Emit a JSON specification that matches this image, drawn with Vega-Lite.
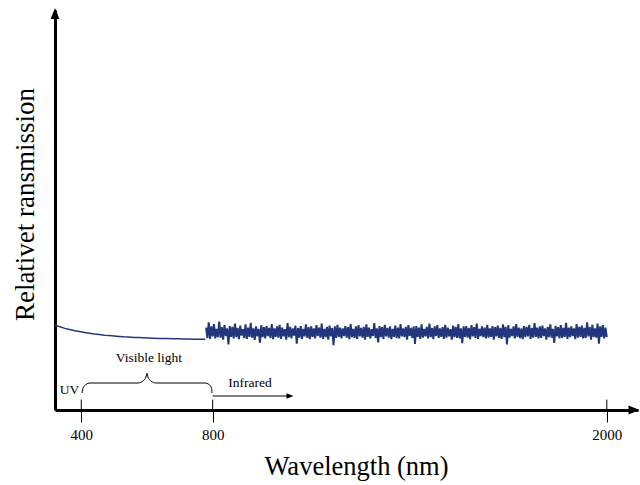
{
  "$schema": "https://vega.github.io/schema/vega-lite/v6.json",
  "autosize": {"type": "none"},
  "padding": {"left": 55, "top": 10, "right": 2, "bottom": 75},
  "width": 583,
  "height": 400,
  "background": "white",
  "config": {"view": {"stroke": null}},
  "datasets": {
    "smooth": [
      {"w":320,"t":21.2},{"w":335,"t":20.8},{"w":350,"t":20.4},{"w":365,"t":20.1},{"w":380,"t":19.8},{"w":395,"t":19.6},{"w":410,"t":19.4},{"w":425,"t":19.2},{"w":440,"t":19.0},{"w":455,"t":18.85},{"w":470,"t":18.7},{"w":485,"t":18.6},{"w":500,"t":18.5},{"w":515,"t":18.4},{"w":530,"t":18.3},{"w":545,"t":18.25},{"w":560,"t":18.15},{"w":575,"t":18.1},{"w":590,"t":18.05},{"w":605,"t":18.0},{"w":620,"t":17.95},{"w":635,"t":17.9},{"w":650,"t":17.9},{"w":665,"t":17.85},{"w":680,"t":17.8},{"w":695,"t":17.8},{"w":710,"t":17.75},{"w":725,"t":17.75},{"w":740,"t":17.7},{"w":755,"t":17.7},{"w":770,"t":17.7},{"w":778,"t":17.7}
    ],
    "noise": [
      {"w":780,"t":20.6},{"w":784,"t":18.0},{"w":788,"t":21.9},{"w":792,"t":17.8},{"w":796,"t":20.9},{"w":800,"t":18.4},{"w":804,"t":21.5},{"w":808,"t":17.9},{"w":812,"t":20.3},{"w":816,"t":18.2},
      {"w":820,"t":22.1},{"w":824,"t":18.1},{"w":828,"t":20.7},{"w":832,"t":17.6},{"w":836,"t":21.2},{"w":840,"t":18.5},{"w":844,"t":20.4},{"w":848,"t":16.4},{"w":852,"t":21.0},{"w":856,"t":18.3},
      {"w":860,"t":20.8},{"w":864,"t":17.9},{"w":868,"t":21.6},{"w":872,"t":18.2},{"w":876,"t":20.5},{"w":880,"t":17.7},{"w":884,"t":21.1},{"w":888,"t":18.6},{"w":892,"t":20.2},{"w":896,"t":18.0},
      {"w":900,"t":21.4},{"w":904,"t":17.8},{"w":908,"t":20.6},{"w":912,"t":18.3},{"w":916,"t":21.8},{"w":920,"t":18.1},{"w":924,"t":20.4},{"w":928,"t":17.5},{"w":932,"t":20.9},{"w":936,"t":18.4},
      {"w":940,"t":20.3},{"w":944,"t":16.8},{"w":948,"t":21.2},{"w":952,"t":18.2},{"w":956,"t":20.7},{"w":960,"t":17.9},{"w":964,"t":21.0},{"w":968,"t":18.5},{"w":972,"t":20.5},{"w":976,"t":18.0},
      {"w":980,"t":21.5},{"w":984,"t":17.7},{"w":988,"t":20.4},{"w":992,"t":18.3},{"w":996,"t":20.9},{"w":1000,"t":18.1},{"w":1004,"t":21.3},{"w":1008,"t":17.8},{"w":1012,"t":20.6},{"w":1016,"t":18.4},
      {"w":1020,"t":20.2},{"w":1024,"t":17.6},{"w":1028,"t":21.7},{"w":1032,"t":18.2},{"w":1036,"t":20.8},{"w":1040,"t":17.9},{"w":1044,"t":20.4},{"w":1048,"t":18.6},{"w":1052,"t":21.1},{"w":1056,"t":16.6},
      {"w":1060,"t":20.5},{"w":1064,"t":18.1},{"w":1068,"t":21.0},{"w":1072,"t":17.8},{"w":1076,"t":20.3},{"w":1080,"t":18.4},{"w":1084,"t":21.4},{"w":1088,"t":18.0},{"w":1092,"t":20.7},{"w":1096,"t":17.7},
      {"w":1100,"t":20.9},{"w":1104,"t":18.3},{"w":1108,"t":20.4},{"w":1112,"t":17.9},{"w":1116,"t":21.2},{"w":1120,"t":18.5},{"w":1124,"t":20.6},{"w":1128,"t":18.1},{"w":1132,"t":21.6},{"w":1136,"t":17.8},
      {"w":1140,"t":20.3},{"w":1144,"t":18.2},{"w":1148,"t":20.8},{"w":1152,"t":17.6},{"w":1156,"t":21.1},{"w":1160,"t":18.4},{"w":1164,"t":20.5},{"w":1168,"t":16.2},{"w":1172,"t":20.9},{"w":1176,"t":18.0},
      {"w":1180,"t":21.3},{"w":1184,"t":18.3},{"w":1188,"t":20.6},{"w":1192,"t":17.9},{"w":1196,"t":20.4},{"w":1200,"t":18.5},{"w":1204,"t":21.0},{"w":1208,"t":18.1},{"w":1212,"t":20.7},{"w":1216,"t":17.7},
      {"w":1220,"t":21.5},{"w":1224,"t":18.2},{"w":1228,"t":20.3},{"w":1232,"t":18.0},{"w":1236,"t":20.9},{"w":1240,"t":17.8},{"w":1244,"t":21.2},{"w":1248,"t":18.4},{"w":1252,"t":20.5},{"w":1256,"t":18.1},
      {"w":1260,"t":20.8},{"w":1264,"t":17.6},{"w":1268,"t":21.4},{"w":1272,"t":18.3},{"w":1276,"t":20.6},{"w":1280,"t":17.9},{"w":1284,"t":20.2},{"w":1288,"t":18.5},{"w":1292,"t":21.7},{"w":1296,"t":18.0},
      {"w":1300,"t":20.4},{"w":1304,"t":16.9},{"w":1308,"t":21.0},{"w":1312,"t":18.2},{"w":1316,"t":20.7},{"w":1320,"t":17.8},{"w":1324,"t":21.3},{"w":1328,"t":18.4},{"w":1332,"t":20.5},{"w":1336,"t":18.1},
      {"w":1340,"t":20.9},{"w":1344,"t":17.7},{"w":1348,"t":20.3},{"w":1352,"t":18.3},{"w":1356,"t":21.1},{"w":1360,"t":18.0},{"w":1364,"t":20.6},{"w":1368,"t":17.9},{"w":1372,"t":21.5},{"w":1376,"t":18.4},
      {"w":1380,"t":20.4},{"w":1384,"t":18.2},{"w":1388,"t":20.8},{"w":1392,"t":17.6},{"w":1396,"t":21.2},{"w":1400,"t":18.5},{"w":1404,"t":20.5},{"w":1408,"t":18.0},{"w":1412,"t":20.9},{"w":1416,"t":16.5},
      {"w":1420,"t":21.0},{"w":1424,"t":18.3},{"w":1428,"t":20.6},{"w":1432,"t":17.8},{"w":1436,"t":21.4},{"w":1440,"t":18.1},{"w":1444,"t":20.3},{"w":1448,"t":18.4},{"w":1452,"t":20.8},{"w":1456,"t":17.9},
      {"w":1460,"t":21.6},{"w":1464,"t":18.2},{"w":1468,"t":20.5},{"w":1472,"t":17.7},{"w":1476,"t":20.9},{"w":1480,"t":18.5},{"w":1484,"t":21.2},{"w":1488,"t":18.0},{"w":1492,"t":20.4},{"w":1496,"t":18.3},
      {"w":1500,"t":20.7},{"w":1504,"t":17.8},{"w":1508,"t":21.3},{"w":1512,"t":18.1},{"w":1516,"t":20.6},{"w":1520,"t":18.4},{"w":1524,"t":20.2},{"w":1528,"t":17.6},{"w":1532,"t":21.1},{"w":1536,"t":18.2},
      {"w":1540,"t":20.8},{"w":1544,"t":18.0},{"w":1548,"t":21.5},{"w":1552,"t":17.9},{"w":1556,"t":20.4},{"w":1560,"t":16.7},{"w":1564,"t":20.9},{"w":1568,"t":18.3},{"w":1572,"t":21.0},{"w":1576,"t":18.1},
      {"w":1580,"t":20.5},{"w":1584,"t":17.7},{"w":1588,"t":21.2},{"w":1592,"t":18.4},{"w":1596,"t":20.7},{"w":1600,"t":18.0},{"w":1604,"t":21.6},{"w":1608,"t":17.8},{"w":1612,"t":20.3},{"w":1616,"t":18.5},
      {"w":1620,"t":20.9},{"w":1624,"t":18.2},{"w":1628,"t":20.6},{"w":1632,"t":17.9},{"w":1636,"t":21.3},{"w":1640,"t":18.1},{"w":1644,"t":20.4},{"w":1648,"t":18.3},{"w":1652,"t":21.0},{"w":1656,"t":17.6},
      {"w":1660,"t":20.7},{"w":1664,"t":18.4},{"w":1668,"t":21.1},{"w":1672,"t":18.0},{"w":1676,"t":20.5},{"w":1680,"t":17.8},{"w":1684,"t":21.4},{"w":1688,"t":18.2},{"w":1692,"t":20.8},{"w":1696,"t":16.4},
      {"w":1700,"t":21.2},{"w":1704,"t":18.1},{"w":1708,"t":20.3},{"w":1712,"t":18.5},{"w":1716,"t":20.9},{"w":1720,"t":17.9},{"w":1724,"t":21.5},{"w":1728,"t":18.3},{"w":1732,"t":20.6},{"w":1736,"t":18.0},
      {"w":1740,"t":20.4},{"w":1744,"t":17.7},{"w":1748,"t":21.0},{"w":1752,"t":18.2},{"w":1756,"t":20.8},{"w":1760,"t":18.4},{"w":1764,"t":21.3},{"w":1768,"t":17.8},{"w":1772,"t":20.5},{"w":1776,"t":18.1},
      {"w":1780,"t":21.7},{"w":1784,"t":18.3},{"w":1788,"t":20.6},{"w":1792,"t":17.9},{"w":1796,"t":20.9},{"w":1800,"t":18.0},{"w":1804,"t":21.1},{"w":1808,"t":18.5},{"w":1812,"t":20.4},{"w":1816,"t":17.6},
      {"w":1820,"t":20.8},{"w":1824,"t":18.2},{"w":1828,"t":21.4},{"w":1832,"t":18.1},{"w":1836,"t":20.3},{"w":1840,"t":16.8},{"w":1844,"t":21.0},{"w":1848,"t":18.4},{"w":1852,"t":20.7},{"w":1856,"t":17.9},
      {"w":1860,"t":21.2},{"w":1864,"t":18.0},{"w":1868,"t":20.5},{"w":1872,"t":18.3},{"w":1876,"t":21.8},{"w":1880,"t":17.8},{"w":1884,"t":20.6},{"w":1888,"t":18.2},{"w":1892,"t":20.9},{"w":1896,"t":18.5},
      {"w":1900,"t":20.4},{"w":1904,"t":17.7},{"w":1908,"t":21.5},{"w":1912,"t":18.1},{"w":1916,"t":20.8},{"w":1920,"t":18.3},{"w":1924,"t":21.1},{"w":1928,"t":17.9},{"w":1932,"t":20.5},{"w":1936,"t":18.0},
      {"w":1940,"t":21.9},{"w":1944,"t":18.4},{"w":1948,"t":20.7},{"w":1952,"t":17.6},{"w":1956,"t":21.3},{"w":1960,"t":18.2},{"w":1964,"t":20.4},{"w":1968,"t":18.1},{"w":1972,"t":21.6},{"w":1976,"t":16.6},
      {"w":1980,"t":20.9},{"w":1984,"t":18.3},{"w":1988,"t":21.2},{"w":1992,"t":17.9},{"w":1996,"t":20.6},{"w":2000,"t":18.2}
    ],
    "brace": [
      {"o":1,"w":402.2,"t":4.25},{"o":2,"w":405.2,"t":5.5},{"o":3,"w":414.4,"t":6.375},{"o":4,"w":426.6,"t":6.75},{"o":5,"w":572.7,"t":6.75},{"o":6,"w":587.9,"t":7.25},{"o":7,"w":597.1,"t":8.25},{"o":8,"w":600.1,"t":9.25},{"o":9,"w":603.1,"t":8.25},{"o":10,"w":612.3,"t":7.25},{"o":11,"w":627.5,"t":6.75},{"o":12,"w":776.7,"t":6.75},{"o":13,"w":788.9,"t":6.375},{"o":14,"w":796.5,"t":5.5},{"o":15,"w":798,"t":4.25}
    ]
  },
  "encoding": {
    "x": {"field": "w", "type": "quantitative", "scale": {"domain": [320, 2095], "zero": false, "nice": false}},
    "y": {"field": "t", "type": "quantitative", "scale": {"domain": [0, 100], "nice": false}}
  },
  "layer": [
    {
      "data": {"name": "smooth"},
      "mark": {"type": "line", "color": "#22367d", "strokeWidth": 1.5},
      "encoding": {
        "x": {"field": "w", "type": "quantitative", "scale": {"domain": [320, 2095], "zero": false, "nice": false},
          "axis": {"title": "Wavelength (nm)", "values": [400, 800, 2000], "format": "d", "grid": false, "domainColor": "black", "domainWidth": 3, "tickColor": "black", "tickSize": 12, "tickWidth": 1, "labelFont": "Liberation Serif", "labelFontSize": 15, "labelColor": "black", "labelPadding": 5, "titleFont": "Liberation Serif", "titleFontSize": 26.5, "titleFontWeight": "normal", "titleColor": "black", "titlePadding": 11, "titleX": 301}},
        "y": {"field": "t", "type": "quantitative", "scale": {"domain": [0, 100], "nice": false},
          "axis": {"title": "Relativet ransmission", "grid": false, "ticks": false, "labels": false, "domainColor": "black", "domainWidth": 3, "titleFont": "Liberation Serif", "titleFontSize": 27, "titleFontWeight": "normal", "titleColor": "black", "titlePadding": 16, "titleY": 194}}
      }
    },
    {
      "data": {"name": "noise"},
      "mark": {"type": "line", "color": "#22367d", "strokeWidth": 2}
    },
    {
      "data": {"values": [{"w": 400, "t": 0, "t2": 2.6}, {"w": 800, "t": 0, "t2": 2.6}, {"w": 2000, "t": 0, "t2": 2.6}]},
      "mark": {"type": "rule", "color": "black", "strokeWidth": 1},
      "encoding": {"y2": {"field": "t2"}}
    },
    {
      "data": {"name": "brace"},
      "mark": {"type": "line", "color": "black", "strokeWidth": 1, "interpolate": "monotone"},
      "encoding": {"order": {"field": "o", "type": "quantitative"}}
    },
    {
      "data": {"values": [{"w": 800, "w2": 1038, "t": 3.5}]},
      "mark": {"type": "rule", "color": "black", "strokeWidth": 1},
      "encoding": {"x2": {"field": "w2"}}
    },
    {
      "data": {"values": [{"w": 1035.5, "t": 3.5}]},
      "mark": {"type": "point", "shape": "M-1,-0.8L-1,0.8L1,0Z", "filled": true, "color": "black", "size": 49, "opacity": 1, "strokeWidth": 0}
    },
    {
      "data": {"values": [{"w": 2082.8, "t": 0}]},
      "mark": {"type": "point", "shape": "M-1,-0.8L-1,0.8L1,0Z", "filled": true, "color": "black", "size": 121, "opacity": 1, "strokeWidth": 0}
    },
    {
      "data": {"values": [{"w": 320, "t": 99.1}]},
      "mark": {"type": "point", "shape": "M-0.8,1L0.8,1L0,-1Z", "filled": true, "color": "black", "size": 121, "opacity": 1, "strokeWidth": 0}
    },
    {
      "data": {"values": [{"w": 364, "t": 4.0, "label": "UV"}, {"w": 606, "t": 12.1, "label": "Visible light"}, {"w": 914, "t": 5.8, "label": "Infrared"}]},
      "mark": {"type": "text", "font": "Liberation Serif", "fontSize": 13.5, "color": "black", "align": "center", "baseline": "alphabetic"},
      "encoding": {"text": {"field": "label"}}
    }
  ]
}
